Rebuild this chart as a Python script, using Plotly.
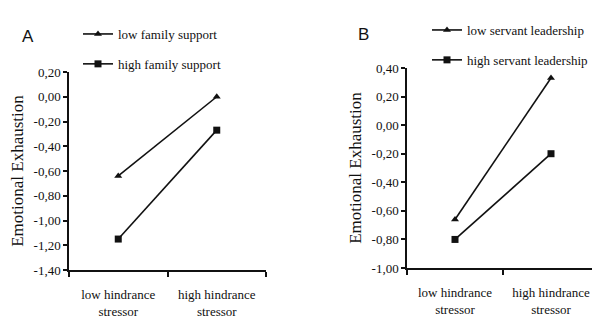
import plotly.graph_objects as go

# ---- data ----
categories = ["low hindrance<br>stressor", "high hindrance<br>stressor"]

a_low_support = [-0.64, 0.00]
a_high_support = [-1.15, -0.27]
a_series_names = ["low family support", "high family support"]

b_low_leader = [-0.66, 0.33]
b_high_leader = [-0.80, -0.20]
b_series_names = ["low servant leadership", "high servant leadership"]

a_ytick_vals = [0.20, 0.00, -0.20, -0.40, -0.60, -0.80, -1.00, -1.20, -1.40]
a_ytick_text = ["0,20", "0,00", "-0,20", "-0,40", "-0,60", "-0,80", "-1,00", "-1,20", "-1,40"]
b_ytick_vals = [0.40, 0.20, 0.00, -0.20, -0.40, -0.60, -0.80, -1.00]
b_ytick_text = ["0,40", "0,20", "0,00", "-0,20", "-0,40", "-0,60", "-0,80", "-1,00"]

y_title = "Emotional Exhaustion"
panel_labels = ["A", "B"]

# ---- figure ----
W, H = 600, 320
OFF = 8  # page body margin offset


def px(x):
    return (x - OFF) / W


def py(y):
    return 1 - (y - OFF) / H


SERIF = "'Liberation Serif', 'Times New Roman', 'DejaVu Serif', serif"
SANS = "'Liberation Sans', Arial, sans-serif"
INK = "#111111"

fig = go.Figure()


def add_line(x, y, name, symbol, size, xa, ya, legend, group):
    fig.add_trace(go.Scatter(
        x=x, y=y, name=name, mode="lines+markers",
        line=dict(color=INK, width=1.6),
        marker=dict(symbol=symbol, size=size, color=INK),
        xaxis=xa, yaxis=ya, legend=legend, legendgroup=group,
    ))


add_line(categories, a_low_support, a_series_names[0], "triangle-up", 7, "x", "y", "legend", "a1")
add_line(categories, a_high_support, a_series_names[1], "square", 7, "x", "y", "legend", "a2")
add_line(categories, b_low_leader, b_series_names[0], "triangle-up", 7, "x2", "y2", "legend2", "b1")
add_line(categories, b_high_leader, b_series_names[1], "square", 7, "x2", "y2", "legend2", "b2")

xaxis_common = dict(
    type="category", range=[-0.5, 1.5], tickson="boundaries",
    showline=True, linecolor=INK, linewidth=1.5,
    ticks="outside", ticklen=5, tickwidth=1.5, tickcolor=INK,
    showgrid=False, zeroline=False, automargin=False,
    ticklabelstandoff=12,
    tickfont=dict(family=SERIF, size=13, color=INK),
)
yaxis_common = dict(
    showline=True, linecolor=INK, linewidth=1.5,
    ticks="outside", ticklen=4, tickwidth=1.5, tickcolor=INK,
    showgrid=False, zeroline=False, automargin=False,
    tickfont=dict(family=SERIF, size=13, color=INK),
    title=dict(text=y_title, font=dict(family=SERIF, size=17, color=INK), standoff=6),
)

legend_common = dict(
    font=dict(family=SERIF, size=13, color=INK),
    bgcolor="rgba(0,0,0,0)", traceorder="grouped", tracegroupgap=10,
    itemwidth=30, xanchor="left", yanchor="top",
)

fig.update_layout(
    template="none",
    width=W, height=H,
    margin=dict(l=0, r=0, t=0, b=0),
    paper_bgcolor="white", plot_bgcolor="white",
    font=dict(family=SERIF, size=13, color=INK),
    showlegend=True,
    xaxis=dict(domain=[px(69), px(266)], **xaxis_common),
    yaxis=dict(domain=[py(270), py(72)], range=[-1.4, 0.2],
               tickvals=a_ytick_vals, ticktext=a_ytick_text, **yaxis_common),
    xaxis2=dict(domain=[px(407), px(599)], anchor="y2", **xaxis_common),
    yaxis2=dict(domain=[py(268), py(68)], range=[-1.0, 0.4], anchor="x2",
                tickvals=b_ytick_vals, ticktext=b_ytick_text, **yaxis_common),
    legend=dict(x=px(78), y=py(19), **legend_common),
    legend2=dict(x=px(427), y=py(15), **legend_common),
    annotations=[
        dict(text=panel_labels[0], x=px(20), y=py(25), xref="paper", yref="paper",
             showarrow=False, font=dict(family=SANS, size=17, color=INK)),
        dict(text=panel_labels[1], x=px(363), y=py(23), xref="paper", yref="paper",
             showarrow=False, font=dict(family=SANS, size=17, color=INK)),
    ],
)

fig.write_html("out.html")
